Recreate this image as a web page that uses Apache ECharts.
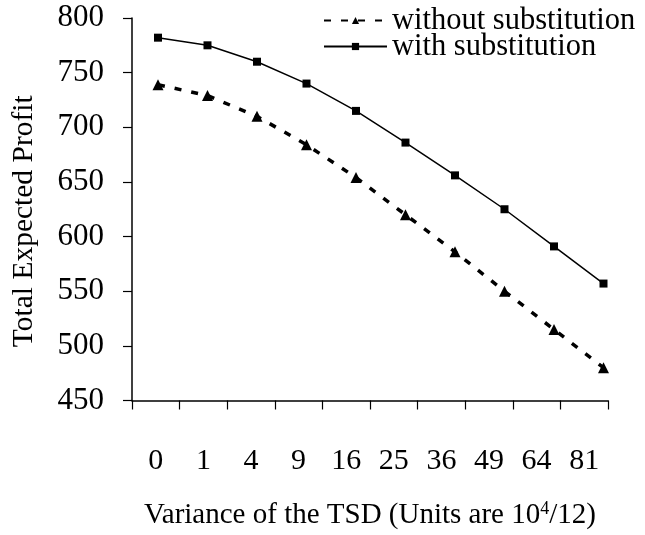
<!DOCTYPE html>
<html>
<head>
<meta charset="utf-8">
<script src="https://cdn.jsdelivr.net/npm/echarts@6/dist/echarts.min.js"></script>
<style>
html,body{margin:0;padding:0;background:#fff;}
#chart{width:645px;height:535px;}
</style>
</head>
<body>
<div id="chart"></div>
<script>
// Data
var categories = ['0', '1', '4', '9', '16', '25', '36', '49', '64', '81'];
var pointIndex = [0, 1, 2, 3, 4, 5, 6, 7, 8, 9];
var withoutSubstitution = [739, 729, 710, 684, 654, 620, 586, 550, 515, 480];
var withSubstitution = [782, 775, 760, 740, 715, 686, 656, 625, 591, 557];
var yTicks = { min: 450, max: 800, interval: 50 };

var FONT = 'Liberation Serif';

function pairs(vals) {
  return vals.map(function (v, i) { return [pointIndex[i], v]; });
}

var chart = echarts.init(document.getElementById('chart'), null, { renderer: 'canvas' });
chart.setOption({
  animation: false,
  backgroundColor: '#ffffff',
  textStyle: { fontFamily: FONT, color: '#000' },
  grid: { left: 132, top: 18, right: 37, bottom: 133 },
  legend: [
    {
      data: ['without substitution'],
      left: 318, top: 0,
      itemWidth: 63, itemHeight: 9, itemGap: 0,
      textStyle: { fontFamily: FONT, fontSize: 30.5, color: '#000' }
    },
    {
      data: ['with substitution'],
      left: 318, top: 26,
      itemWidth: 63, itemHeight: 9, itemGap: 0,
      textStyle: { fontFamily: FONT, fontSize: 30.5, color: '#000' }
    }
  ],
  xAxis: [
    {
      type: 'category',
      data: categories,
      boundaryGap: true,
      axisLine: { show: true, onZero: false, lineStyle: { color: '#000', width: 1.5 } },
      axisTick: { show: true, interval: 0, length: 9, lineStyle: { color: '#000', width: 1.2 } },
      axisLabel: { interval: 0, margin: 46, fontFamily: FONT, fontSize: 30, color: '#000' },
      splitLine: { show: false },
      name: 'Variance of the TSD (Units are 10{sup|4}/12)',
      nameLocation: 'middle',
      nameGap: 100,
      nameTextStyle: {
        fontFamily: FONT, fontSize: 29, color: '#000',
        rich: { sup: { fontFamily: FONT, fontSize: 18, color: '#000', verticalAlign: 'top', padding: [0, 0, 12, 0] } }
      }
    },
    {
      type: 'value',
      min: -0.525,
      max: 9.091,
      show: false
    }
  ],
  yAxis: {
    type: 'value',
    min: yTicks.min, max: yTicks.max, interval: yTicks.interval,
    axisLine: { show: true, onZero: false, lineStyle: { color: '#000', width: 1.5 } },
    axisTick: { show: true, length: 9, lineStyle: { color: '#000', width: 1.2 } },
    axisLabel: { margin: 28, fontFamily: FONT, fontSize: 31, color: '#000' },
    splitLine: { show: false },
    name: 'Total Expected Profit',
    nameLocation: 'middle',
    nameGap: 93,
    nameTextStyle: { fontFamily: FONT, fontSize: 29.5, color: '#000', padding: [0, 24, 0, 0] }
  },
  series: [
    {
      name: 'without substitution',
      type: 'line',
      xAxisIndex: 1,
      data: pairs(withoutSubstitution),
      symbol: 'triangle',
      symbolSize: 11,
      lineStyle: { color: '#000', width: 3.5, type: [7, 10] },
      itemStyle: { color: '#000', borderWidth: 0 }
    },
    {
      name: 'with substitution',
      type: 'line',
      xAxisIndex: 1,
      data: pairs(withSubstitution),
      symbol: 'rect',
      symbolSize: 8,
      lineStyle: { color: '#000', width: 1.5, type: 'solid' },
      itemStyle: { color: '#000', borderWidth: 0 }
    }
  ]
});
</script>
</body>
</html>
